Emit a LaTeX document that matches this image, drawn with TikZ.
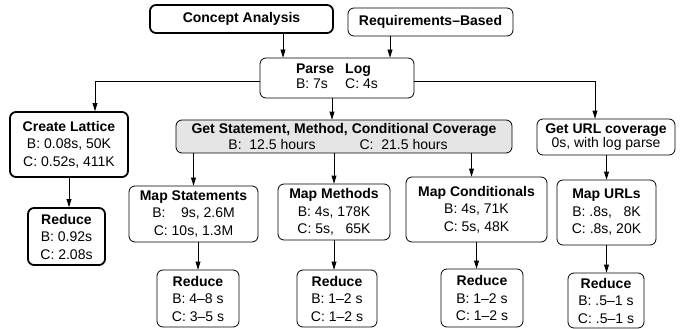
\documentclass[tikz,border=0pt]{standalone}
\usepackage{fontspec}
\setmainfont{Liberation Sans}
\usetikzlibrary{arrows.meta}
\definecolor{boxgray}{gray}{0.9}
\begin{document}
\begin{tikzpicture}[x=1pt,y=-1pt,
  font=\fontsize{14}{17.5}\selectfont,
  box/.style={draw, rounded corners=6pt, line width=0.8pt, inner sep=0pt, align=center},
  bbox/.style={box, line width=1.8pt},
  arr/.style={-{Triangle[length=8pt,width=5pt]}, line width=0.8pt}]
\useasboundingbox (0,0) rectangle (691,329);

\node[bbox, minimum width=183pt, minimum height=28pt, font=\fontsize{14}{15}\selectfont\bfseries] (concept) at (241.5,19) {Concept Analysis};
\node[box, minimum width=165pt, minimum height=28pt, font=\fontsize{14}{15}\selectfont\bfseries] (req) at (430.5,22) {Requirements–Based};
\node[box, minimum width=154pt, minimum height=40pt, font=\fontsize{14}{15}\selectfont] (parse) at (337,78)
  {\begin{tabular}{@{}l@{\hspace{11pt}}l@{}}\textbf{Parse} & \textbf{Log}\\ B: 7s & C: 4s\end{tabular}};

\node[bbox, minimum width=118pt, minimum height=65pt] (lattice) at (69,144.5)
  {\textbf{Create Lattice}\\B: 0.08s, 50K\\C: 0.52s, 411K};
\node[bbox, minimum width=77pt, minimum height=57pt] (red0) at (66.5,236.5)
  {\textbf{Reduce}\\B: 0.92s\\C: 2.08s};

\node[box, fill=boxgray, minimum width=336pt, minimum height=33pt, font=\fontsize{14}{16}\selectfont] (getst) at (344,136.5)
  {\textbf{Get Statement, Method, Conditional Coverage}\\B:\ \ 12.5 hours\hspace{44pt}C:\ \ 21.5 hours\hspace*{12pt}};
\node[box, minimum width=138pt, minimum height=36pt, font=\fontsize{14}{13.5}\selectfont] (url) at (606,137)
  {\textbf{Get URL coverage}\\0s, with log parse};

\node[box, minimum width=129pt, minimum height=56pt] (mapst) at (193.5,214)
  {\textbf{Map Statements}\\B: \ \phantom{1}9s, 2.6M\\C: 10s, 1.3M};
\node[box, minimum width=112pt, minimum height=56pt] (mapm) at (334,212)
  {\textbf{Map Methods}\\B: 4s, 178K\\C: 5s, \phantom{1}65K};
\node[box, minimum width=141pt, minimum height=65pt] (mapc) at (476.5,209.5)
  {\textbf{Map Conditionals}\\B: 4s, 71K\\C: 5s, 48K};
\node[box, minimum width=99pt, minimum height=65pt] (mapu) at (606.5,212.5)
  {\textbf{Map URLs}\\B: .8s, \phantom{2}8K\\C: .8s, 20K};

\node[box, minimum width=82pt, minimum height=57pt] (red1) at (198,298.5)
  {\textbf{Reduce}\\B: 4–8 s\\C: 3–5 s};
\node[box, minimum width=80pt, minimum height=57pt] (red2) at (337,298.5)
  {\textbf{Reduce}\\B: 1–2 s\\C: 1–2 s};
\node[box, minimum width=82pt, minimum height=58pt] (red3) at (482,298)
  {\textbf{Reduce}\\B: 1–2 s\\C: 1–2 s};
\node[box, minimum width=76pt, minimum height=55pt] (red4) at (606,300.5)
  {\textbf{Reduce}\\B: .5–1 s\\C: .5–1 s};

% connectors
\coordinate (c1) at ([xshift=41.5pt]concept.south);
\draw[arr] (c1) -- (c1 |- parse.north);
\coordinate (c2) at ([xshift=-40.5pt]req.south);
\draw[arr] (c2) -- (c2 |- parse.north);
\draw[arr] ([yshift=-3pt]parse.west) -| ([xshift=26pt]lattice.north);
\draw[arr] ([yshift=-3pt]parse.east) -| ([xshift=-11pt]url.north);
\coordinate (c3) at ([xshift=-5pt]parse.south);
\draw[arr] (c3) -- (c3 |- getst.north);
\draw[arr] (mapst.north |- getst.south) -- (mapst.north);
\draw[arr] (mapm.north |- getst.south) -- (mapm.north);
\coordinate (c4) at ([xshift=-5pt]mapc.north);
\draw[arr] (c4 |- getst.south) -- (c4);
\draw[arr] (mapu.north |- url.south) -- (mapu.north);
\draw[arr] (lattice.south) -- (lattice.south |- red0.north);
\draw[arr] (red1.north |- mapst.south) -- (red1.north);
\draw[arr] (mapm.south) -- (mapm.south |- red2.north);
\draw[arr] (mapc.south) -- (mapc.south |- red3.north);
\draw[arr] (mapu.south) -- (mapu.south |- red4.north);
\end{tikzpicture}
\end{document}
